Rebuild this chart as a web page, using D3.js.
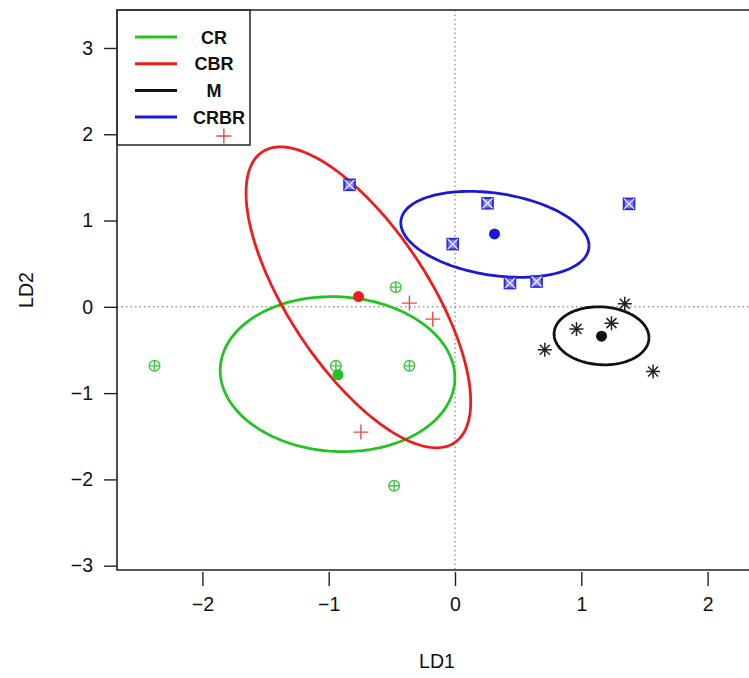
<!DOCTYPE html>
<html><head><meta charset="utf-8">
<script src="https://cdn.jsdelivr.net/npm/d3@7"></script>
<style>html,body{margin:0;padding:0;background:#fff;}svg{display:block;font-family:"Liberation Sans",Arial,sans-serif;}</style>
</head><body>
<svg id="chart" width="749" height="678"></svg>
<script>
// ---------- data ----------
const groups = ["CR", "CBR", "M", "CRBR"];
const groupColors = ["#22c422", "#ee1c1c", "#111111", "#1a1ad6"];
const pointColors = ["#3cc83c", "#f04848", "#222222", "#2a2ae0"];
const xTicks = [-2, -1, 0, 1, 2];
const yTicks = [-3, -2, -1, 0, 1, 2, 3];

const crPoints = [[-2.379, -0.684], [-0.943, -0.684], [-0.361, -0.684], [-0.469, 0.228], [-0.482, -2.074]];
const cbrPoints = [[-1.83, 1.98], [-0.361, 0.043], [-0.176, -0.143], [-0.745, -1.452]];
const mPoints = [[0.711, -0.498], [0.962, -0.258], [1.239, -0.189], [1.344, 0.035], [1.568, -0.750]];
const crbrPoints = [[-0.835, 1.414], [0.258, 1.20], [-0.018, 0.727], [0.435, 0.275], [0.646, 0.293], [1.378, 1.193]];
const groupPoints = [crPoints, cbrPoints, mPoints, crbrPoints];

const centroidX = [-0.927, -0.764, 1.16, 0.313];
const centroidY = [-0.788, 0.119, -0.34, 0.845];

// ellipse: center + covariance-like shape (sxx, syy, sxy)
const ellCx = [-0.93, -0.765, 1.16, 0.316];
const ellCy = [-0.78, 0.11, -0.336, 0.84];
const ellSxx = [0.863, 0.791, 0.141, 0.555];
const ellSyy = [0.806, 3.04, 0.113, 0.248];
const ellSxy = [-0.04, -1.076, -0.008, -0.10];

// ---------- layout ----------
const svg = d3.select("#chart");
const pL = 117, pR = 757, pT = 10, pB = 570;
const x = d3.scaleLinear().domain([-2.676, 2.391]).range([pL, pR]);
const y = d3.scaleLinear().domain([-3.05, 3.44]).range([pB, pT]);

// reference lines
const refG = svg.append("g").attr("stroke", "#9a9a9a").attr("stroke-width", 1.5).attr("stroke-dasharray", "1.5,3");
refG.append("line").attr("x1", pL).attr("x2", pR).attr("y1", y(0)).attr("y2", y(0));
refG.append("line").attr("x1", x(0)).attr("x2", x(0)).attr("y1", pT).attr("y2", pB);

// ellipses
const line = d3.line().x(d => x(d[0])).y(d => y(d[1]));
groups.forEach((g, i) => {
  const l11 = Math.sqrt(ellSxx[i]);
  const l21 = ellSxy[i] / l11;
  const l22 = Math.sqrt(ellSyy[i] - l21 * l21);
  const pts = d3.range(0, 361, 2).map(a => {
    const t = a * Math.PI / 180;
    return [ellCx[i] + l11 * Math.cos(t), ellCy[i] + l21 * Math.cos(t) + l22 * Math.sin(t)];
  });
  svg.append("path").attr("d", line(pts)).attr("fill", "none")
    .attr("stroke", groupColors[i]).attr("stroke-width", 2.8);
});

// points
function marker(sel, i, px, py) {
  const c = pointColors[i];
  const g = sel.append("g").attr("transform", `translate(${px},${py})`)
    .attr("stroke", c).attr("fill", "none");
  if (i === 0) { // circle plus
    g.attr("stroke-width", 1.4);
    g.append("circle").attr("r", 5.3);
    g.append("path").attr("d", "M-5.3,0H5.3M0,-5.3V5.3");
  } else if (i === 1) { // plus
    g.attr("stroke-width", 1.4);
    g.append("path").attr("d", "M-7.5,0H7.5M0,-7.5V7.5");
  } else if (i === 2) { // asterisk
    g.attr("stroke-width", 1.5);
    g.append("path").attr("d", "M-7,0H7M0,-7V7M-5,-5L5,5M-5,5L5,-5");
  } else { // square with cross
    g.attr("stroke-width", 2);
    g.append("rect").attr("x", -5.3).attr("y", -5.3).attr("width", 10.6).attr("height", 10.6)
      .attr("fill", "#7c7cee");
    g.append("path").attr("d", "M-5,-5L5,5M-5,5L5,-5").attr("stroke-width", 1.2).attr("stroke", "#f4f4ff");
  }
}
const ptsG = svg.append("g");
groupPoints.forEach((arr, i) => arr.forEach(p => marker(ptsG, i, x(p[0]), y(p[1]))));

// centroids
svg.append("g").selectAll("circle").data(groups).join("circle")
  .attr("cx", (d, i) => x(centroidX[i])).attr("cy", (d, i) => y(centroidY[i]))
  .attr("r", 5.5).attr("fill", (d, i) => groupColors[i]);

// frame
const frame = svg.append("g").attr("stroke", "#222").attr("stroke-width", 1.6).attr("fill", "none");
frame.append("path").attr("d", `M${pR},${pT}H${pL}V${pB}H${pR}`);

// axes
const fmt = d => d < 0 ? "\u2212" + Math.abs(d) : d;
const xAxis = d3.axisBottom(x).tickValues(xTicks).tickSize(14).tickPadding(11).tickFormat(fmt);
const gx = svg.append("g").attr("transform", `translate(0,${pB + 2})`).call(xAxis);
gx.select(".domain").remove();
gx.selectAll("line").attr("stroke", "#222").attr("stroke-width", 1.4);
gx.selectAll("text").attr("font-size", 19.5).attr("fill", "#111");

const yAxis = d3.axisLeft(y).tickValues(yTicks).tickSize(13).tickPadding(11).tickFormat(fmt);
const gy = svg.append("g").attr("transform", `translate(${pL},0)`).call(yAxis);
gy.select(".domain").remove();
gy.selectAll("line").attr("stroke", "#222").attr("stroke-width", 1.4);
gy.selectAll("text").attr("font-size", 19.5).attr("fill", "#111");

svg.append("text").attr("x", (pL + pR) / 2).attr("y", 668).attr("text-anchor", "middle")
  .attr("font-size", 19.5).attr("fill", "#111").text("LD1");
svg.append("text").attr("transform", `translate(33,${(pT + pB) / 2}) rotate(-90)`).attr("text-anchor", "middle")
  .attr("font-size", 19.5).attr("fill", "#111").text("LD2");

// legend
const leg = svg.append("g");
leg.append("rect").attr("x", pL).attr("y", pT).attr("width", 133).attr("height", 135)
  .attr("fill", "none").attr("stroke", "#333").attr("stroke-width", 1.6);
groups.forEach((g, i) => {
  const ly = 37 + i * 26.7;
  leg.append("line").attr("x1", 135).attr("x2", 177).attr("y1", ly).attr("y2", ly)
    .attr("stroke", groupColors[i]).attr("stroke-width", 3);
  leg.append("text").attr("x", i === 3 ? 193 : 214).attr("y", ly + 6.5)
    .attr("text-anchor", i === 3 ? "start" : "middle")
    .attr("font-size", 18).attr("font-weight", "bold").attr("fill", "#111").text(g);
});
</script>
</body></html>
